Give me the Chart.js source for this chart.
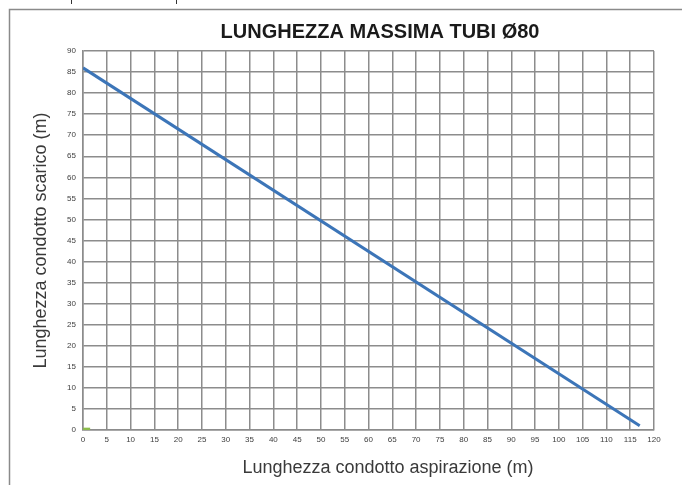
<!DOCTYPE html>
<html>
<head>
<meta charset="utf-8">
<script src="https://cdn.jsdelivr.net/npm/chart.js@4"></script>
<style>
  html, body { margin: 0; padding: 0; background: #fff; }
  canvas { display: block; }
</style>
</head>
<body>
<canvas id="tubi" width="682" height="485"></canvas>
<script>
// ── DATA ──────────────────────────────────────────────────────────────────────
var titleText = 'LUNGHEZZA MASSIMA TUBI Ø80';
var xLabel = 'Lunghezza condotto aspirazione (m)';
var yLabel = 'Lunghezza condotto scarico (m)';

// aspirazione (m) -> scarico (m)
var aspirazione = [0, 117];
var scarico = [86, 1];

// small marker sitting on the origin
var originX = [0, 1.5];
var originY = [0.2, 0.2];

var xMax = 120, yMax = 90, step = 5;

function toPoints(xs, ys) {
  return xs.map(function(x, i) { return { x: x, y: ys[i] }; });
}

// frame, title and x-axis caption
var framePlugin = {
  id: 'frame',
  afterDraw: function(chart) {
    var ctx = chart.ctx;
    var W = chart.width, H = chart.height;
    ctx.save();
    ctx.strokeStyle = '#8a8a8a';
    ctx.lineWidth = 1.5;
    ctx.beginPath();
    ctx.moveTo(W, 9.5);
    ctx.lineTo(9.5, 9.5);
    ctx.lineTo(9.5, H);
    ctx.stroke();

    ctx.strokeStyle = '#333';
    ctx.lineWidth = 1;
    ctx.beginPath();
    ctx.moveTo(71.5, 0); ctx.lineTo(71.5, 4);
    ctx.moveTo(176.5, 0); ctx.lineTo(176.5, 4);
    ctx.stroke();

    ctx.fillStyle = '#1a1a1a';
    ctx.textAlign = 'center';
    ctx.textBaseline = 'middle';
    ctx.font = 'bold 20px "Liberation Sans", Arial, sans-serif';
    ctx.fillText(titleText, 380, 32);

    ctx.fillStyle = '#3a3a3a';
    ctx.font = '18px "Liberation Sans", Arial, sans-serif';
    ctx.fillText(xLabel, 388, 468);
    ctx.restore();
  }
};

var tickFont = { family: '"Liberation Sans", Arial, sans-serif', size: 8 };

new Chart(document.getElementById('tubi'), {
  type: 'scatter',
  data: {
    datasets: [
      {
        data: toPoints(aspirazione, scarico),
        showLine: true,
        borderColor: '#3c75b8',
        borderWidth: 3,
        pointRadius: 0,
        fill: false
      },
      {
        data: toPoints(originX, originY),
        showLine: true,
        borderColor: '#8cbb4c',
        borderWidth: 3,
        pointRadius: 0,
        fill: false
      }
    ]
  },
  options: {
    responsive: false,
    animation: false,
    layout: { padding: { top: 51, right: 28, left: 0, bottom: 0 } },
    plugins: {
      legend: { display: false },
      tooltip: { enabled: false },
      title: { display: false }
    },
    scales: {
      x: {
        type: 'linear',
        min: 0,
        max: xMax,
        afterFit: function(s) { s.height = 55; },
        ticks: {
          stepSize: step,
          autoSkip: false,
          maxRotation: 0,
          padding: 5,
          color: '#404040',
          font: tickFont
        },
        grid: { color: '#8c8c8c', lineWidth: 1.5, drawTicks: false },
        border: { color: '#8c8c8c', width: 1.5 }
      },
      y: {
        type: 'linear',
        min: 0,
        max: yMax,
        afterFit: function(s) { s.width = 83; },
        ticks: {
          stepSize: step,
          padding: 7,
          color: '#404040',
          font: tickFont
        },
        title: {
          display: true,
          text: yLabel,
          color: '#3a3a3a',
          font: { family: '"Liberation Sans", Arial, sans-serif', size: 18 },
          padding: { top: 30, bottom: 0 }
        },
        grid: { color: '#8c8c8c', lineWidth: 1.5, drawTicks: false },
        border: { color: '#8c8c8c', width: 1.5 }
      }
    }
  },
  plugins: [framePlugin]
});
</script>
</body>
</html>
